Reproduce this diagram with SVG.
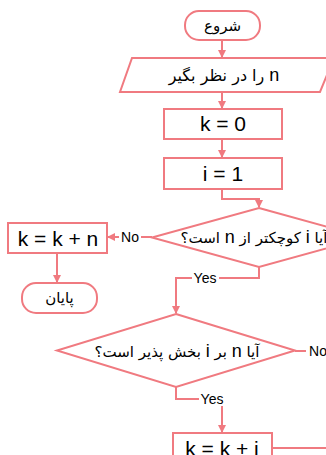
<svg xmlns="http://www.w3.org/2000/svg" width="326" height="455" viewBox="0 0 326 455">
<style>
.s{fill:#fff;stroke:#F07A80;stroke-width:2}
.c{fill:none;stroke:#F07A80;stroke-width:2}
.t{font-family:"Liberation Sans","DejaVu Sans",sans-serif;font-size:21px;fill:#000;text-anchor:middle}
.a{font-family:"DejaVu Sans",sans-serif;font-size:15px;fill:#000;text-anchor:middle;direction:rtl;unicode-bidi:embed}
.v{font-family:"Liberation Sans",sans-serif;font-size:18px}
.l{font-family:"Liberation Sans",sans-serif;font-size:14px;fill:#000;text-anchor:middle}
.bg{fill:#fff}
</style>
<defs>
<marker id="ah" markerWidth="8" markerHeight="8" refX="7" refY="4" orient="auto" markerUnits="userSpaceOnUse">
<path d="M0,0 L8,4 L0,8 z" fill="#F07A80"/>
</marker>
</defs>
<g id="connectors">
<path class="c" d="M222,40 V57" marker-end="url(#ah)"/>
<path class="c" d="M222,92 V108" marker-end="url(#ah)"/>
<path class="c" d="M222,139 V157" marker-end="url(#ah)"/>
<path class="c" d="M222,189 V199 H259 V207" marker-end="url(#ah)"/>
<path class="c" d="M152,237 H108" marker-end="url(#ah)"/>
<path class="c" d="M57,253 V282" marker-end="url(#ah)"/>
<path class="c" d="M259,267 V278 H176 V313" marker-end="url(#ah)"/>
<path class="c" d="M295,351 H330"/>
<path class="c" d="M176,387 V399 H222 V432" marker-end="url(#ah)"/>
<path class="c" d="M272,448 H330"/>
<rect class="bg" x="119" y="230" width="22" height="14"/>
<text class="l" x="130" y="242">No</text>
<rect class="bg" x="192" y="271" width="27" height="14"/>
<text class="l" x="205" y="283">Yes</text>
<rect class="bg" x="306" y="344" width="22" height="14"/>
<text class="l" x="318" y="356">No</text>
<rect class="bg" x="199" y="392" width="27" height="14"/>
<text class="l" x="212" y="404">Yes</text>
</g>
<g id="start">
<rect class="s" x="185" y="11" width="75" height="29" rx="14"/>
<text class="a" x="222.5" y="31">شروع</text>
</g>
<g id="input">
<polygon class="s" points="132,58 334,58 320,92 120,92"/>
<text class="a" x="224" y="81" style="font-size:16px"><tspan class="v">n</tspan> را در نظر بگیر</text>
</g>
<g id="k0">
<rect class="s" x="164" y="109" width="118" height="30"/>
<text class="t" x="223" y="131">k = 0</text>
</g>
<g id="i1">
<rect class="s" x="164" y="158" width="118" height="31"/>
<text class="t" x="223" y="181">i = 1</text>
</g>
<g id="cond1">
<polygon class="s" points="259,208 366,237.5 259,267 152,237.5"/>
<text class="a" x="254" y="243">آیا <tspan class="v">i</tspan> کوچکتر از <tspan class="v">n</tspan> است؟</text>
</g>
<g id="kkn">
<rect class="s" x="8" y="223" width="99" height="30"/>
<text class="t" x="58" y="246">k = k + n</text>
</g>
<g id="end">
<rect class="s" x="22" y="283" width="75" height="30" rx="14"/>
<text class="a" x="59.5" y="303">پایان</text>
</g>
<g id="cond2">
<polygon class="s" points="176,314 295,350.5 176,387 57,350.5"/>
<text class="a" x="177" y="357">آیا <tspan class="v">n</tspan> بر <tspan class="v">i</tspan> بخش پذیر است؟</text>
</g>
<g id="kki">
<rect class="s" x="173" y="433" width="99" height="30"/>
<text class="t" x="222" y="456">k = k + i</text>
</g>
</svg>
